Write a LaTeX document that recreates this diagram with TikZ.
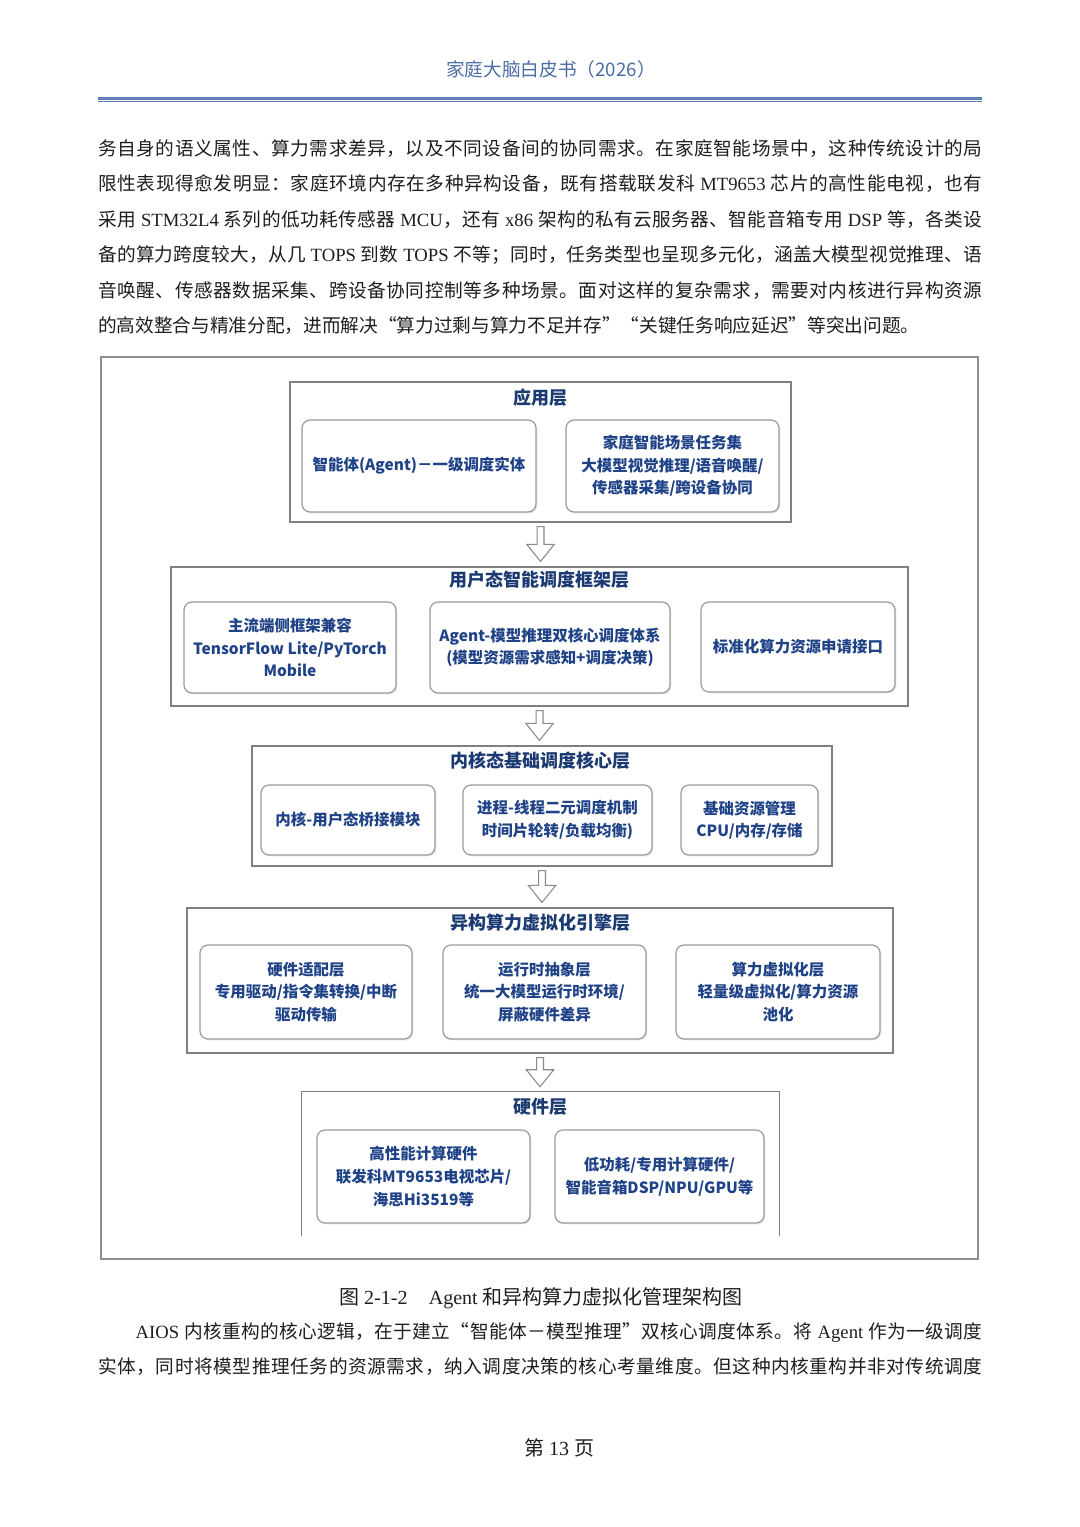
\documentclass[tikz,border=0pt]{standalone}
\usepackage{fontspec}
\setmainfont{Liberation Serif}
\newfontfamily\cjk{Noto Sans CJK SC}
\newfontfamily\tm{Liberation Serif}
\usetikzlibrary{shadows,calc,fit}

\definecolor{hdrblue}{HTML}{4C6DA6}
\definecolor{rulebl}{HTML}{5F7EB6}
\definecolor{navy}{HTML}{1F4287}
\definecolor{tnavy}{HTML}{1C3A72}
\definecolor{boxgray}{HTML}{808080}
\definecolor{subgray}{HTML}{9A9A9A}
\definecolor{bodyink}{HTML}{1E1E1E}
\definecolor{arrgray}{HTML}{8A8A8A}

% spread a line of text over a fixed width (one glue between every token)
\def\stopmark{\spreadstop}
\def\spreadaux#1{\def\tmparg{#1}\ifx\tmparg\stopmark\unskip\else{#1}\hskip 0pt plus 1fil\expandafter\spreadaux\fi}
\newcommand\spreadline[2][663pt]{\hbox to #1{\spreadaux#2\spreadstop}}

\newcommand\hollowarrow[2]{%
  \draw[hollowtip] let \p1=(#1.south), \p2=(#2.north) in
    (\x1-2.6pt,\y1-3pt) -- (\x1+2.6pt,\y1-3pt) -- (\x1+2.6pt,\y2+16.5pt)
    -- (\x1+10.3pt,\y2+16.5pt) -- (\x1,\y2+3.75pt) -- (\x1-10.3pt,\y2+16.5pt)
    -- (\x1-2.6pt,\y2+16.5pt) -- cycle;}

\begin{document}
\begin{tikzpicture}[x=0.75pt,y=-0.75pt,
  bodyline/.style={anchor=base west, inner sep=0pt,
    font=\cjk\fontsize{14}{17}\selectfont, text=bodyink},
  plaintext/.style={anchor=base, inner sep=0pt, text=bodyink},
  frame/.style={draw=boxgray!90, line width=1pt, fill=white,
    drop shadow={shadow xshift=1pt, shadow yshift=-1pt, opacity=0.18}},
  layerbox/.style={draw=boxgray, line width=0.9pt, fill=white, inner sep=0pt,
    drop shadow={shadow xshift=0.9pt, shadow yshift=-0.9pt, opacity=0.22}},
  ltitle/.style={inner sep=0pt, text=tnavy, font=\cjk\bfseries\fontsize{13.5}{16}\selectfont},
  subbox/.style={draw=subgray, line width=0.9pt, rounded corners=6pt, fill=white,
    inner sep=0pt,
    drop shadow={shadow xshift=1pt, shadow yshift=-1pt, opacity=0.2}},
  subtext/.style={inner sep=0pt, align=center, text=navy,
    font=\cjk\bfseries\fontsize{11.6}{16.9}\selectfont},
  hollowtip/.style={draw=arrgray, fill=white, line width=0.8pt, line join=miter}
]
\useasboundingbox (0,0) rectangle (1080,1527);
\fill[white] (0,0) rectangle (1080,1527);

% header
\node[plaintext, text=hdrblue, font=\cjk\fontsize{14}{17}\selectfont] (hdr) at (551,76) {家庭大脑白皮书（2026）};
\draw[rulebl, line width=2pt] (98,98.6) -- (982,98.6);
\draw[rulebl, line width=0.75pt] (98,101.7) -- (982,101.7);

% first paragraph
\node[bodyline] (p1) at (98,155) {\spreadline{务自身的语义属性、算力需求差异，以及不同设备间的协同需求。在家庭智能场景中，这种传统设计的局}};
\node[bodyline] (p2) at (98,190.5) {\spreadline{限性表现得愈发明显：家庭环境内存在多种异构设备，既有搭载联发科{\tm\ MT9653\ }芯片的高性能电视，也有}};
\node[bodyline] (p3) at (98,226) {\spreadline{采用{\tm\ STM32L4\ }系列的低功耗传感器{\tm\ MCU}，还有{\tm\ x86\ }架构的私有云服务器、智能音箱专用{\tm\ DSP\ }等，各类设}};
\node[bodyline] (p4) at (98,261.5) {\spreadline{备的算力跨度较大，从几{\tm\ TOPS\ }到数{\tm\ TOPS\ }不等；同时，任务类型也呈现多元化，涵盖大模型视觉推理、语}};
\node[bodyline] (p5) at (98,297) {\spreadline{音唤醒、传感器数据采集、跨设备协同控制等多种场景。面对这样的复杂需求，需要对内核进行异构资源}};
\node[bodyline] (p6) at (98,332.5) {的高效整合与精准分配，进而解决“算力过剩与算力不足并存”“关键任务响应延迟”等突出问题。};

% figure frame
\node[frame, inner sep=0pt, fit={(101,357) (978,1259)}] (frm) {};

% layer 1
\node[layerbox, fit={(290,382) (791,522)}] (L1) {};
\node[ltitle] (L1t) at ($(L1.north)+(0,16)$) {应用层};
\node[subbox, fit={(302,420) (536,512)}] (A1) {};
\node[subtext] (A1x) at (A1.center) {智能体(Agent)－一级调度实体};
\node[subbox, fit={(566,420) (779,512)}] (A2) {};
\node[subtext] (A2x) at (A2.center) {家庭智能场景任务集\\大模型视觉推理/语音唤醒/\\传感器采集/跨设备协同};

% layer 2
\node[layerbox, fit={(171,567) (908,706)}] (L2) {};
\node[ltitle] (L2t) at ($(L2.north)+(0,13.5)$) {用户态智能调度框架层};
\node[subbox, fit={(184,602) (396,693)}] (B1) {};
\node[subtext] (B1x) at (B1.center) {主流端侧框架兼容\\TensorFlow Lite/PyTorch\\Mobile};
\node[subbox, fit={(430,602) (670,693)}] (B2) {};
\node[subtext] (B2x) at (B2.center) {Agent-模型推理双核心调度体系\\(模型资源需求感知+调度决策)};
\node[subbox, fit={(701,602) (895,692)}] (B3) {};
\node[subtext] (B3x) at (B3.center) {标准化算力资源申请接口};

% layer 3
\node[layerbox, fit={(252,746) (832,866)}] (L3) {};
\node[ltitle] (L3t) at ($(L3.north)+(-2,15)$) {内核态基础调度核心层};
\node[subbox, fit={(261,785) (435,855)}] (C1) {};
\node[subtext] (C1x) at (C1.center) {内核-用户态桥接模块};
\node[subbox, fit={(463,785) (652,855)}] (C2) {};
\node[subtext] (C2x) at (C2.center) {进程-线程二元调度机制\\时间片轮转/负载均衡)};
\node[subbox, fit={(681,785) (818,855)}] (C3) {};
\node[subtext] (C3x) at (C3.center) {基础资源管理\\CPU/内存/存储};

% layer 4
\node[layerbox, fit={(187,908) (893,1053)}] (L4) {};
\node[ltitle] (L4t) at ($(L4.north)+(0,15)$) {异构算力虚拟化引擎层};
\node[subbox, fit={(200,945) (412,1039)}] (D1) {};
\node[subtext] (D1x) at (D1.center) {硬件适配层\\专用驱动/指令集转换/中断\\驱动传输};
\node[subbox, fit={(443,945) (646,1039)}] (D2) {};
\node[subtext] (D2x) at (D2.center) {运行时抽象层\\统一大模型运行时环境/\\屏蔽硬件差异};
\node[subbox, fit={(676,945) (880,1039)}] (D3) {};
\node[subtext] (D3x) at (D3.center) {算力虚拟化层\\轻量级虚拟化/算力资源\\池化};

% layer 5 (open at the bottom)
\node[inner sep=0pt, fit={(302,1092) (779,1236)}] (L5) {};
\draw[boxgray, line width=0.9pt] (L5.south west) -- (L5.north west) -- (L5.north east) -- (L5.south east);
\node[ltitle] (L5t) at ($(L5.north)+(0,15)$) {硬件层};
\node[subbox, fit={(317,1130) (530,1223)}] (E1) {};
\node[subtext] (E1x) at (E1.center) {高性能计算硬件\\联发科MT9653电视芯片/\\海思Hi3519等};
\node[subbox, fit={(555,1130) (764,1223)}] (E2) {};
\node[subtext] (E2x) at (E2.center) {低功耗/专用计算硬件/\\智能音箱DSP/NPU/GPU等};

% arrows between layers
\hollowarrow{L1}{L2}
\hollowarrow{L2}{L3}
\hollowarrow{L3}{L4}
\hollowarrow{L4}{L5}

% caption
\node[plaintext, font=\cjk\fontsize{15}{18}\selectfont] (cap) at (541,1304) {图{\tm\ 2-1-2}\hspace{16pt}{\tm Agent\ }和异构算力虚拟化管理架构图};

% second paragraph
\node[bodyline] (q1) at (98,1338) {\hspace*{28pt}\spreadline[635pt]{{\tm AIOS\ }内核重构的核心逻辑，在于建立“智能体－模型推理”双核心调度体系。将{\tm\ Agent\ }作为一级调度}};
\node[bodyline] (q2) at (98,1373) {\spreadline{实体，同时将模型推理任务的资源需求，纳入调度决策的核心考量维度。但这种内核重构并非对传统调度}};

% footer
\node[plaintext, font=\cjk\fontsize{15}{18}\selectfont] (pg) at (559,1455.5) {第{\tm\ 13\ }页};
\end{tikzpicture}
\end{document}
